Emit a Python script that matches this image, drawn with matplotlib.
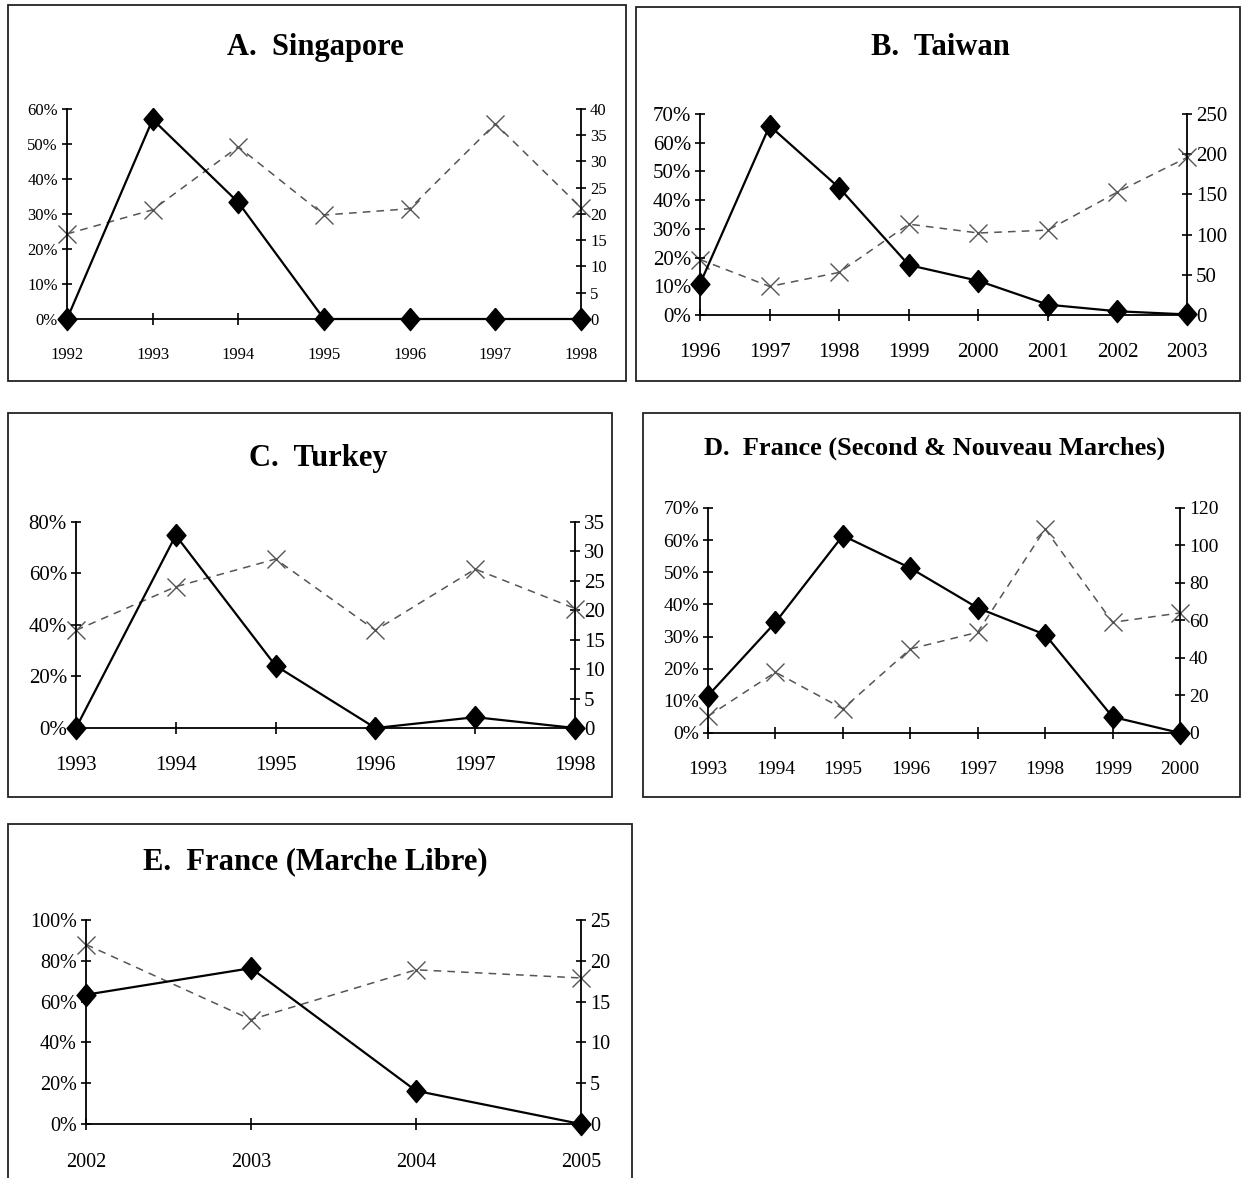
import matplotlib
matplotlib.use('Agg')
import matplotlib.pyplot as plt
from matplotlib.patches import Rectangle

plt.rcParams['font.family'] = ['Liberation Serif', 'DejaVu Serif']

# A. Singapore
sg_years = ['1992', '1993', '1994', '1995', '1996', '1997', '1998']
sg_pct = [0, 57, 33.3, 0, 0, 0, 0]
sg_count = [16.2, 20.8, 32.8, 19.8, 21, 37.2, 21.2]

# B. Taiwan
tw_years = ['1996', '1997', '1998', '1999', '2000', '2001', '2002', '2003']
tw_pct = [10.9, 65.9, 44.3, 17.4, 11.9, 3.6, 1.3, 0.2]
tw_count = [69, 35.5, 53, 113, 102, 105.6, 153, 196]

# C. Turkey
tr_years = ['1993', '1994', '1995', '1996', '1997', '1998']
tr_pct = [0, 74.8, 24.2, 0, 4.2, 0]
tr_count = [16.6, 24, 28.7, 16.6, 27, 20.3]

# D. France (Second & Nouveau Marches)
fr_years = ['1993', '1994', '1995', '1996', '1997', '1998', '1999', '2000']
fr_pct = [11.6, 34.4, 61.4, 51.3, 38.9, 30.6, 5, 0]
fr_count = [8.9, 32.4, 12.9, 44.8, 53.7, 108.8, 59, 64]

# E. France (Marche Libre)
ml_years = ['2002', '2003', '2004', '2005']
ml_pct = [63.4, 76.4, 16.3, 0]
ml_count = [22, 12.8, 18.9, 17.9]

diamond = [(0, 1), (0.85, 0), (0, -1), (-0.85, 0), (0, 1)]


def draw_panel(fig, rect, years, pct, count, left_max, left_step,
               right_max, right_step, fs):
    ax = fig.add_axes(rect)
    ax2 = ax.twinx()
    x = list(range(len(years)))

    ax2.plot(x, count, color='#555555', lw=1.1, ls=(0, (5, 4)),
             marker='x', ms=13, mew=1.0, clip_on=False)
    ax.plot(x, pct, color='black', lw=1.6, marker=diamond, ms=16,
            mfc='black', mec='black', clip_on=False)

    ax.set_zorder(ax2.get_zorder() + 1)
    ax.patch.set_visible(False)

    ax.set_xlim(0, len(years) - 1)
    ax.set_ylim(0, left_max)
    ax2.set_ylim(0, right_max)
    ax.set_xticks(x)
    ax.set_xticklabels(years)
    lt = list(range(0, left_max + 1, left_step))
    ax.set_yticks(lt)
    ax.set_yticklabels(['%d%%' % v for v in lt])
    rt = list(range(0, right_max + 1, right_step))
    ax2.set_yticks(rt)
    ax2.set_yticklabels(['%d' % v for v in rt])

    for s in ['top', 'right']:
        ax.spines[s].set_visible(False)
    for s in ['top', 'left', 'bottom']:
        ax2.spines[s].set_visible(False)
    for a in (ax, ax2):
        for s in a.spines.values():
            s.set_linewidth(1.3)
    ax.tick_params(axis='y', direction='inout', length=7, width=1.2,
                   pad=3, labelsize=fs)
    ax.tick_params(axis='x', direction='inout', length=9, width=1.2,
                   pad=16, labelsize=fs)
    ax2.tick_params(axis='y', direction='inout', length=7, width=1.2,
                    pad=3, labelsize=fs)
    return ax


fig = plt.figure(figsize=(12.43, 11.78), dpi=100)

frames = [
    (0.0064, 0.6766, 0.4972, 0.3192),
    (0.5117, 0.6766, 0.4859, 0.3175),
    (0.0064, 0.3234, 0.4859, 0.3260),
    (0.5173, 0.3234, 0.4803, 0.3260),
    (0.0064, -0.01, 0.5020, 0.3105),
]
for fx, fy, fw, fh in frames:
    fig.patches.append(Rectangle((fx, fy), fw, fh, transform=fig.transFigure,
                                 fill=False, ec='#222222', lw=1.3))

draw_panel(fig, [0.0539, 0.7292, 0.4135, 0.1783], sg_years, sg_pct, sg_count,
           60, 10, 40, 5, 12)
draw_panel(fig, [0.5632, 0.7326, 0.3918, 0.1706], tw_years, tw_pct, tw_count,
           70, 10, 250, 50, 15)
draw_panel(fig, [0.0611, 0.3820, 0.4015, 0.1749], tr_years, tr_pct, tr_count,
           80, 20, 35, 5, 15)
draw_panel(fig, [0.5696, 0.3778, 0.3797, 0.1910], fr_years, fr_pct, fr_count,
           70, 10, 120, 20, 14)
draw_panel(fig, [0.0692, 0.0458, 0.3982, 0.1732], ml_years, ml_pct, ml_count,
           100, 20, 25, 5, 14.5)

titles = [
    (0.2534, 0.960, 'A.  Singapore', 22),
    (0.7562, 0.960, 'B.  Taiwan', 22),
    (0.2558, 0.6112, 'C.  Turkey', 22),
    (0.752, 0.6197, 'D.  France (Second & Nouveau Marches)', 19),
    (0.2534, 0.2683, 'E.  France (Marche Libre)', 22),
]
for tx, ty, t, size in titles:
    fig.text(tx, ty, t, ha='center', va='center', fontsize=size,
             fontweight='bold')

fig.savefig('out.png', dpi=100)
